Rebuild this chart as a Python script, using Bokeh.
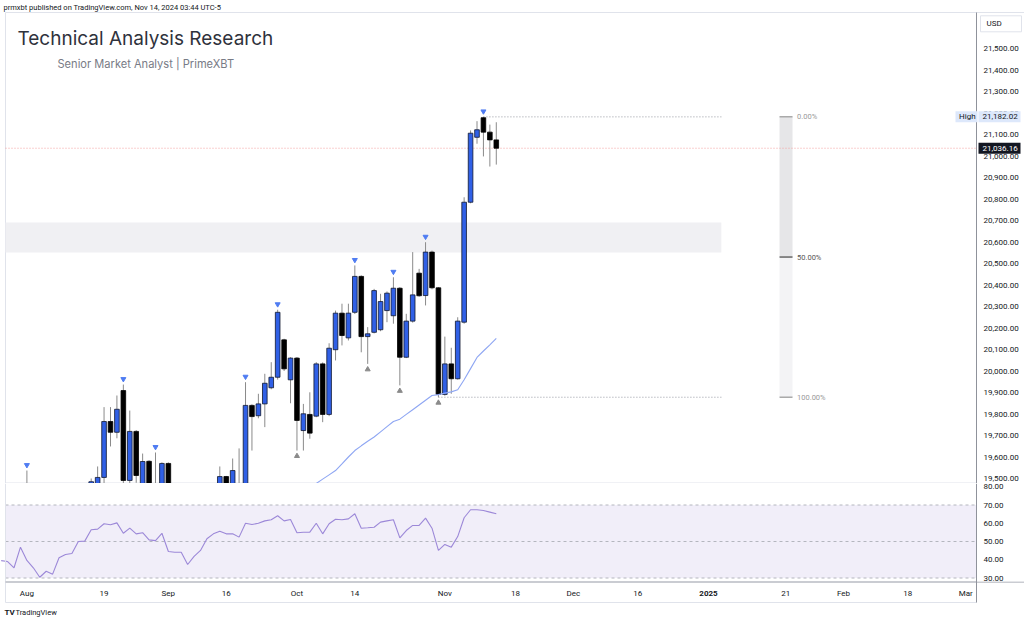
import numpy as np
from bokeh.plotting import figure
from bokeh.models import ColumnDataSource, Range1d
from bokeh.core.properties import value
from bokeh.layouts import column
from bokeh.embed import file_html
from bokeh.resources import INLINE

# ---------------- data ----------------
# trading-day index 0 = 2024-08-01
opens = [19470, 19100, 18000, 17950, 18300, 18100, 18500, 18650, 18700, 19050,
         19200, 19450, 19505, 19765, 19715, 19909, 19491, 19719, 19470, 19580,
         19460, 19420, 19570, 19050, 18950, 19000, 18600, 18700, 18800, 19200,
         19350, 19509, 19440, 19470, 19420, 19840, 19792, 19847, 19922, 19971,
         20145, 19959, 20060, 19723, 19798, 19790, 20033, 19798, 20099, 20269,
         20154, 20273, 20440, 20160, 20180, 20192, 20281, 20257, 20385, 20064,
         20232, 20455, 20351, 20553, 20387, 19891, 20033, 19964, 20227, 20785,
         21087, 21178, 21111, 21075]
highs = [19537, 19150, 18300, 18350, 18550, 18600, 18650, 18750, 19050, 19150,
         19500, 19556, 19832, 19832, 19886, 19937, 19816, 19725, 19616, 19585,
         19621, 19575, 19575, 19150, 19150, 19050, 18750, 18900, 19250, 19400,
         19556, 19512, 19593, 19640, 19948, 19845, 19894, 19987, 20041, 20285,
         20150, 20064, 20065, 19847, 19901, 20041, 20040, 20129, 20281, 20313,
         20313, 20491, 20445, 20204, 20382, 20359, 20370, 20436, 20390, 20266,
         20553, 20475, 20599, 20560, 20390, 20160, 20108, 20250, 20808, 21119,
         21162, 21182.02, 21146, 21157]
lows = [19000, 18400, 17300, 17900, 17900, 18050, 18400, 18500, 18700, 18950,
        19150, 19400, 19460, 19649, 19687, 19460, 19460, 19480, 19420, 19350,
        19300, 19350, 19050, 18900, 18900, 18450, 18550, 18650, 18500, 19150,
        19300, 19380, 19400, 19350, 19400, 19630, 19780, 19739, 19915, 19960,
        20000, 19850, 19630, 19630, 19685, 19785, 19762, 19790, 20049, 20119,
        20142, 20265, 20087, 20033, 20175, 20185, 20227, 20220, 19933, 20060,
        20225, 20345, 20305, 20380, 19878, 19885, 19894, 19960, 20220, 20780,
        21057, 20998, 20951, 20960]
closes = [19100, 18450, 17950, 18150, 17950, 18550, 18600, 18650, 19050, 19100,
          19485, 19505, 19765, 19715, 19822, 19491, 19719, 19514, 19579, 19420,
          19380, 19570, 19100, 18950, 19000, 18500, 18700, 18850, 19200, 19350,
          19509, 19450, 19537, 19400, 19840, 19788, 19847, 19943, 19971, 20273,
          20010, 20060, 19770, 19801, 19711, 20033, 19798, 20106, 20269, 20165,
          20269, 20440, 20160, 20173, 20374, 20323, 20362, 20385, 20064, 20232,
          20354, 20350, 20553, 20387, 19891, 20033, 19964, 20232, 20785, 21106,
          21122, 21111, 21075, 21036.16]

# moving average (from index 42)
ma_start = 42
ma_values = [19415, 19436, 19456, 19477, 19497, 19517, 19537, 19568, 19600, 19630,
             19652, 19673, 19693, 19717, 19741, 19765, 19776, 19798, 19820, 19842,
             19864, 19886, 19890, 19897, 19903, 19913, 19959, 20011, 20063, 20093,
             20122, 20152]

# RSI (from index -4)
rsi_start = -4
rsi_values = [39.5, 39.0, 35.6, 46.9, 39.6, 35.6, 30.4, 33.7, 32.1, 41.1,
              42.9, 43.4, 50.0, 50.2, 56.4, 56.8, 59.7, 59.2, 60.2, 54.5,
              57.3, 54.2, 54.8, 50.9, 50.5, 54.5, 44.5, 44.1, 44.1, 37.4,
              41.8, 45.1, 51.5, 54.2, 55.6, 54.2, 54.2, 52.4, 60.0, 59.3,
              60.0, 61.3, 61.9, 64.1, 61.3, 62.1, 54.8, 55.1, 55.1, 60.0,
              54.2, 59.7, 62.2, 61.9, 62.4, 65.2, 57.3, 57.5, 57.8, 60.6,
              61.3, 61.9, 52.0, 56.0, 58.8, 58.8, 62.8, 57.3, 45.1, 48.4,
              46.9, 52.7, 63.0, 67.4, 67.4, 67.0, 66.1, 65.2]

swing_high_idx = [0, 15, 20, 34, 39, 51, 57, 62, 71]
swing_low_idx = [42, 53, 58, 64]

tick_idx = [0, 12, 22, 31, 42, 51, 65, 76, 85, 95, 106, 118, 127, 137, 146]
tick_labels = ["Aug", "19", "Sep", "16", "Oct", "14", "Nov", "18", "Dec", "16",
               "2025", "21", "Feb", "18", "Mar"]

price_ticks = list(range(19500, 21501, 100))
rsi_ticks = [30, 40, 50, 60, 70, 80]
rsi_levels = [70, 50, 30]

zone_low, zone_high, zone_end_idx = 20551, 20691, 108.0
fib_high, fib_low = 21182.02, 19878
fib_left_idx, fib_right_idx = 117.05, 119.07
last_price = 21036.16

# ---------------- geometry (page pixels) ----------------
PX_PER_BAR, BAR0_X = 6.43, 26.4
PX_PER_PT, Y_21500 = 0.215, 48.0
RSI_PX, RSI_Y50 = 1.825, 541.0
PANE_L, AXIS_X = 5, 976

def dx(px):
    return (px - BAR0_X) / PX_PER_BAR

def dy(py):
    return 21500 - (py - Y_21500) / PX_PER_PT

def ry(py):
    return 50 - (py - RSI_Y50) / RSI_PX

FONT = value("Roboto")
TXT = "#131722"
LINE = "#e0e3eb"

def bare(fig):
    fig.grid.visible = False
    fig.outline_line_color = None
    fig.background_fill_color = "white"
    fig.border_fill_color = "white"

# ---------------- price pane ----------------
p = figure(width=1024, height=483, x_range=Range1d(dx(0), dx(1024)),
           y_range=Range1d(dy(483), dy(0)), output_backend="svg",
           toolbar_location=None, x_axis_location=None, y_axis_location=None,
           min_border=0)
bare(p)

# frame lines
p.segment(x0=[dx(PANE_L)], x1=[dx(1024)], y0=[dy(12)], y1=[dy(12)], line_color=LINE)
p.segment(x0=[dx(PANE_L)], x1=[dx(PANE_L)], y0=[dy(12)], y1=[dy(483)], line_color=LINE)
p.segment(x0=[dx(PANE_L)], x1=[dx(1024)], y0=[dy(482.5)], y1=[dy(482.5)], line_color=LINE)

# supply/demand zone
p.quad(left=[dx(PANE_L)], right=[zone_end_idx], bottom=[zone_low], top=[zone_high],
       fill_color="#f0f0f3", line_color=None)

# fib / range tool
fib_mid = (fib_high + fib_low) / 2
p.quad(left=[fib_left_idx], right=[fib_right_idx], bottom=[fib_mid], top=[fib_high],
       fill_color="#e6e6e8", line_color=None)
p.quad(left=[fib_left_idx], right=[fib_right_idx], bottom=[fib_low], top=[fib_mid],
       fill_color="#f3f3f5", line_color=None)
p.segment(x0=[fib_left_idx] * 3, x1=[fib_right_idx] * 3, y0=[fib_high, fib_mid, fib_low],
          y1=[fib_high, fib_mid, fib_low], line_color=["#aaaaaa", "#666666", "#aaaaaa"],
          line_width=1.5)
p.text(x=[fib_right_idx + 0.7] * 3, y=[fib_high, fib_mid, fib_low],
       text=["0.00%", "50.00%", "100.00%"], text_font=FONT, text_font_size="7.5px",
       text_color=["#9a9a9a", "#555555", "#9a9a9a"], text_baseline="middle")

# dotted high / low lines
p.segment(x0=[71, 64], x1=[zone_end_idx, zone_end_idx], y0=[fib_high, fib_low],
          y1=[fib_high, fib_low], line_color="#9598a1", line_dash="1 2", line_width=1)

# current price line
p.segment(x0=[dx(PANE_L)], x1=[dx(AXIS_X)], y0=[last_price], y1=[last_price],
          line_color="#f4a0a0", line_dash="1 2", line_width=1)

# candles
idx = np.arange(len(opens))
o = np.array(opens, float); h = np.array(highs, float)
l = np.array(lows, float); c = np.array(closes, float)
up = c >= o
src = ColumnDataSource(dict(
    x=idx, high=h, low=l, top=np.maximum(o, c), bottom=np.minimum(o, c),
    fill=np.where(up, "#3060e6", "#000000"),
    line=np.where(up, "#10182e", "#000000")))
p.segment(x0="x", y0="low", x1="x", y1="high", source=src, line_color="#8a8a8a",
          line_width=1)
p.vbar(x="x", width=0.72, top="top", bottom="bottom", fill_color="fill",
       line_color="line", line_width=0.8, source=src)

# moving average
p.line(x=list(range(ma_start, ma_start + len(ma_values))), y=ma_values,
       line_color="#8ea6f3", line_width=1.1)

# swing markers
off = 5.5 / PX_PER_PT
p.scatter(x=swing_high_idx, y=[h[i] + off for i in swing_high_idx],
          marker="inverted_triangle", size=5, fill_color="#4f7cf2", line_color="#4f7cf2")
p.scatter(x=swing_low_idx, y=[l[i] - off for i in swing_low_idx],
          marker="triangle", size=5, fill_color="#8a8a8a", line_color="#8a8a8a")

# header / titles
p.text(x=[dx(3)], y=[dy(6.5)],
       text=["prmxbt published on TradingView.com, Nov 14, 2024 03:44 UTC-5"],
       text_font=FONT, text_font_size="7.5px", text_color=TXT, text_baseline="middle")
p.text(x=[dx(17)], y=[dy(37.5)], text=["Technical Analysis Research"],
       text_font=value("Inter"), text_font_size="19px", text_color="#2f323c",
       text_baseline="middle")
p.text(x=[dx(57)], y=[dy(63.5)], text=["Senior Market Analyst | PrimeXBT"],
       text_font=value("Inter"), text_font_size="11.1px", text_color="#787b86",
       text_baseline="middle")

# price scale (right)
p.quad(left=[dx(AXIS_X)], right=[dx(1024)], bottom=[dy(483)], top=[dy(12.5)],
       fill_color="white", line_color=None)
p.segment(x0=[dx(AXIS_X)], x1=[dx(AXIS_X)], y0=[dy(12)], y1=[dy(483)],
          line_color="#8f929b", line_width=1)
p.text(x=[dx(983)] * len(price_ticks), y=price_ticks,
       text=[f"{v:,.2f}" for v in price_ticks], text_font=FONT, text_font_size="8px",
       text_color=TXT, text_baseline="middle")
p.rect(x=[dx(1000.5)], y=[dy(23.3)], width=41, height=16, width_units="screen",
       height_units="screen", fill_color="white", line_color=LINE)
p.text(x=[dx(986)], y=[dy(23.3)], text=["USD"], text_font=FONT, text_font_size="8px",
       text_color=TXT, text_baseline="middle")
# tags
p.rect(x=[dx(966), dx(999)], y=[fib_high, fib_high], width=[22, 42], height=11,
       width_units="screen", height_units="screen", fill_color="#dde8fb", line_color=None)
p.text(x=[dx(958.5), dx(982)], y=[fib_high, fib_high], text=["High", f"{fib_high:,.2f}"],
       text_font=FONT, text_font_size="8px", text_color=TXT, text_baseline="middle")
p.rect(x=[dx(999)], y=[last_price], width=42, height=11, width_units="screen",
       height_units="screen", fill_color="#131722", line_color=None)
p.text(x=[dx(982)], y=[last_price], text=[f"{last_price:,.2f}"], text_font=FONT,
       text_font_size="8px", text_color="white", text_baseline="middle")

# ---------------- RSI pane + time scale ----------------
r = figure(width=1024, height=140, x_range=p.x_range,
           y_range=Range1d(ry(623), ry(483)), output_backend="svg",
           toolbar_location=None, x_axis_location=None, y_axis_location=None,
           min_border=0)
bare(r)

r.quad(left=[dx(PANE_L)], right=[dx(AXIS_X)], bottom=[30], top=[70],
       fill_color="#f1eef9", line_color=None)
r.segment(x0=[dx(PANE_L)] * 3, x1=[dx(AXIS_X)] * 3, y0=rsi_levels, y1=rsi_levels,
          line_color="#b4b6be", line_dash="3 3", line_width=1)
r.line(x=list(range(rsi_start, rsi_start + len(rsi_values))), y=rsi_values,
       line_color="#9c88d8", line_width=1.1)

# pane borders
r.segment(x0=[dx(PANE_L)], x1=[dx(PANE_L)], y0=[ry(483)], y1=[ry(602)], line_color=LINE)
r.segment(x0=[dx(PANE_L), dx(PANE_L)], x1=[dx(1024), dx(AXIS_X)],
          y0=[ry(581.5), ry(602)], y1=[ry(581.5), ry(602)],
          line_color=["#b8bbc3", LINE], line_width=[1.5, 1])
r.quad(left=[dx(AXIS_X)], right=[dx(1024)], bottom=[ry(581)], top=[ry(483.5)],
       fill_color="white", line_color=None)
r.segment(x0=[dx(AXIS_X)], x1=[dx(AXIS_X)], y0=[ry(483)], y1=[ry(602)],
          line_color="#8f929b", line_width=1)
r.text(x=[dx(983)] * len(rsi_ticks), y=rsi_ticks, text=[f"{v:.2f}" for v in rsi_ticks],
       text_font=FONT, text_font_size="8px", text_color=TXT, text_baseline="middle")

# time scale labels
norm = [(i, t) for i, t in zip(tick_idx, tick_labels) if t != "2025"]
r.text(x=[i for i, _ in norm], y=[ry(593)] * len(norm), text=[t for _, t in norm],
       text_font=FONT, text_font_size="8px", text_color=TXT, text_align="center",
       text_baseline="middle")
r.text(x=[i for i, t in zip(tick_idx, tick_labels) if t == "2025"], y=[ry(593)],
       text=["2025"], text_font=FONT, text_font_size="8px", text_font_style="bold",
       text_color=TXT, text_align="center", text_baseline="middle")

# footer
r.text(x=[dx(4)], y=[ry(612)], text=["TV"], text_font=FONT, text_font_size="8px",
       text_font_style="bold", text_color=TXT, text_baseline="middle")
r.text(x=[dx(15)], y=[ry(612)], text=["TradingView"], text_font=FONT,
       text_font_size="7.5px", text_color=TXT, text_baseline="middle")

layout = column(p, r, spacing=0)
open("out.html", "w").write(file_html(layout, INLINE))
